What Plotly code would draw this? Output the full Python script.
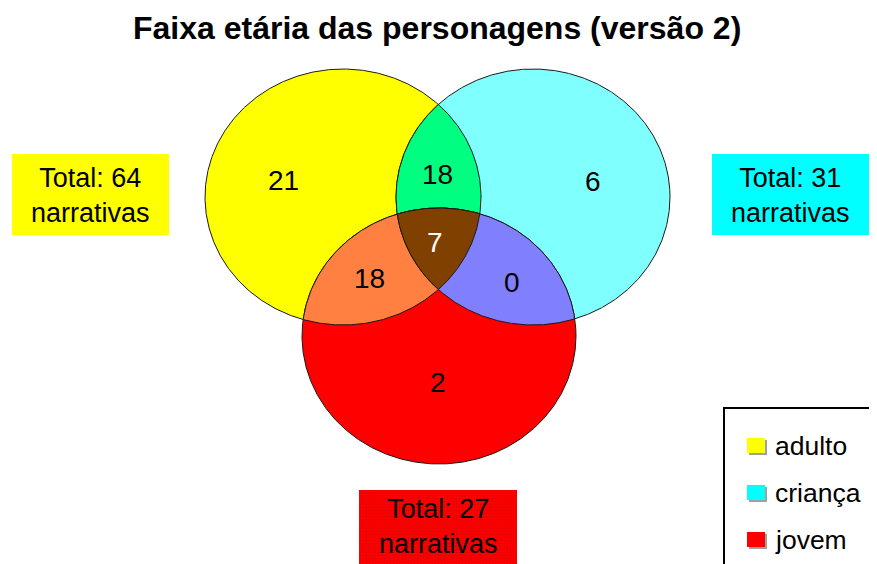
import numpy as np
import plotly.graph_objects as go

# ---------------- data ----------------
title_text = "Faixa etária das personagens (versão 2)"
set_names = ["adulto", "criança", "jovem"]
set_totals = [64, 31, 27]
region_names = ["adulto", "criança", "jovem", "adulto+criança", "adulto+jovem", "criança+jovem", "todos"]
region_counts = [21, 6, 2, 18, 18, 0, 7]

# ---------------- layout / style ----------------
W, H = 877, 564
OFF = 8  # page body margin
FONT = "Arial, Liberation Sans, sans-serif"
legend_colors = ["#FFFF00", "#00FFFF", "#FF0000"]
box_colors = ["#FFFF00", "#00FFFF", "#FF0000"]
region_colors = ["#FFFF00", "#80FFFF", "#FF0000", "#00FF80", "#FF8040", "#8080FF", "#804000"]
region_text_colors = ["black"] * 6 + ["white"]
# ellipse geometry in pixel space (center x, center y, rx, ry)
ellipses = [(343, 197, 138, 128), (533, 197, 137, 128), (439, 336, 137, 128)]
region_label_pos = [(283, 180), (593, 181), (438, 382), (437, 174), (369, 278), (512, 282), (435, 242)]
boxes = [(12, 154, 169, 235), (712, 154, 869, 235), (359, 490, 517, 566)]


def ellipse_poly(cx, cy, rx, ry, n=720):
    t = np.linspace(0, 2 * np.pi, n, endpoint=False)
    return [(cx + rx * np.cos(a), cy + ry * np.sin(a)) for a in t]


def area_sign(poly):
    s = 0.0
    for i in range(len(poly)):
        x1, y1 = poly[i]
        x2, y2 = poly[(i + 1) % len(poly)]
        s += x1 * y2 - x2 * y1
    return 1 if s > 0 else -1


def clip(subject, clipper):
    sg = area_sign(clipper)
    out = list(subject)
    n = len(clipper)
    for i in range(n):
        if not out:
            break
        a = clipper[i]
        b = clipper[(i + 1) % n]

        def inside(p):
            return sg * ((b[0] - a[0]) * (p[1] - a[1]) - (b[1] - a[1]) * (p[0] - a[0])) >= 0

        def inter(p, q):
            x1, y1 = p; x2, y2 = q; x3, y3 = a; x4, y4 = b
            den = (x1 - x2) * (y3 - y4) - (y1 - y2) * (x3 - x4)
            if abs(den) < 1e-12:
                return q
            t = ((x1 - x3) * (y3 - y4) - (y1 - y3) * (x3 - x4)) / den
            return (x1 + t * (x2 - x1), y1 + t * (y2 - y1))

        inp = out
        out = []
        prev = inp[-1]
        for cur in inp:
            if inside(cur):
                if not inside(prev):
                    out.append(inter(prev, cur))
                out.append(cur)
            elif inside(prev):
                out.append(inter(prev, cur))
            prev = cur
    return out


E = [ellipse_poly(*e) for e in ellipses]
YC = clip(E[0], E[1])
YR = clip(E[0], E[2])
CR = clip(E[1], E[2])
YCR = clip(YC, E[2])

# drawing order: Y, C, Y∩C, R, Y∩R, C∩R, Y∩C∩R
layers = [(E[0], region_colors[0]), (E[1], region_colors[1]), (YC, region_colors[3]),
          (E[2], region_colors[2]), (YR, region_colors[4]), (CR, region_colors[5]),
          (YCR, region_colors[6])]

fig = go.Figure()

# total boxes
for i, (x0, y0, x1, y1) in enumerate(boxes):
    kw = {}
    if i == 2:
        kw["fillpattern"] = dict(shape=".", fgcolor="#C80000", bgcolor="#FF0000", size=3, solidity=0.35)
    fig.add_trace(go.Scatter(x=[x0, x1, x1, x0, x0], y=[y0, y0, y1, y1, y0], mode="lines",
                             fill="toself", fillcolor=box_colors[i], line=dict(width=0),
                             hoverinfo="skip", showlegend=False, **kw))

for poly, col in layers:
    xs = [p[0] for p in poly] + [poly[0][0]]
    ys = [p[1] for p in poly] + [poly[0][1]]
    fig.add_trace(go.Scatter(x=xs, y=ys, mode="lines", fill="toself", fillcolor=col,
                             line=dict(color="#1a1a1a", width=1), hoverinfo="skip", showlegend=False))

annotations = []
for (x, y), v, c in zip(region_label_pos, region_counts, region_text_colors):
    annotations.append(dict(x=x, y=y, text=str(v), showarrow=False, xanchor="center", yanchor="middle",
                            font=dict(family=FONT, size=28, color=c)))

for (x0, y0, x1, y1), tot in zip(boxes, set_totals):
    cy = (y0 + min(y1, 564)) / 2 + (1 if y1 < 560 else -1)
    annotations.append(dict(x=(x0 + x1) / 2, y=cy, text=f"Total: {tot}<br>narrativas", showarrow=False,
                            xanchor="center", yanchor="middle", align="center",
                            font=dict(family=FONT, size=27, color="black")))

annotations.append(dict(x=437, y=28, text=f"<b>{title_text}</b>", showarrow=False, xanchor="center",
                        yanchor="middle", font=dict(family=FONT, size=32, color="black")))

shapes = []
# legend frame
shapes.append(dict(type="rect", x0=724, y0=408, x1=890, y1=580, line=dict(color="black", width=2),
                   fillcolor="white", layer="below"))
leg_y = [446, 493, 540]
for name, col, ly in zip(set_names, legend_colors, leg_y):
    shapes.append(dict(type="rect", x0=749, y0=ly - 6, x1=767, y1=ly + 9, line=dict(width=0),
                       fillcolor="#A0A0A0", layer="above"))
    shapes.append(dict(type="rect", x0=747, y0=ly - 8, x1=765, y1=ly + 7, line=dict(width=0),
                       fillcolor=col, layer="above"))
    annotations.append(dict(x=773, y=ly, text=name, showarrow=False, xanchor="left", yanchor="middle",
                            font=dict(family=FONT, size=26.5, color="black")))

fig.update_layout(
    width=W - OFF, height=H - OFF, margin=dict(l=0, r=0, t=0, b=0),
    paper_bgcolor="white", plot_bgcolor="white",
    xaxis=dict(range=[OFF, W], visible=False, fixedrange=True),
    yaxis=dict(range=[H, OFF], visible=False, fixedrange=True),
    shapes=shapes, annotations=annotations, showlegend=False,
)
fig.write_html("out.html")
